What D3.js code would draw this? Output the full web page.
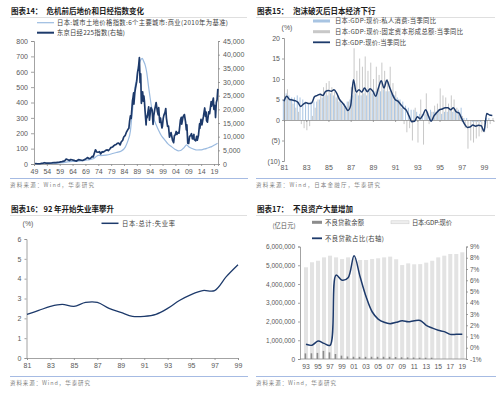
<!DOCTYPE html>
<html>
<head>
<meta charset="utf-8">
<script src="https://cdn.jsdelivr.net/npm/d3@7"></script>
<style>
  body { margin: 0; background: #fff; }
  svg { display: block; }
</style>
</head>
<body>
<svg id="chart" width="500" height="397"></svg>
<script>
const FONT = '"Liberation Sans", "Noto Sans CJK SC", sans-serif';
const CJK = '"Noto Sans CJK SC", sans-serif';
const NAVY = "#1d3a6b";

// ---------- chart 14: land price vs Nikkei ----------
const ticks14 = [1949, 1954, 1959, 1964, 1969, 1974, 1979, 1984, 1989, 1994, 1999, 2004, 2009, 2014, 2019];
const landPrice = [[1955, 3], [1956, 4], [1958, 5], [1960, 8], [1962, 14], [1964, 17], [1966, 18], [1968, 21],
  [1970, 27], [1972, 34], [1973, 46], [1974, 56], [1975, 55], [1977, 58], [1979, 65], [1981, 75], [1983, 85],
  [1984.5, 110], [1985.5, 150], [1986.5, 215], [1987, 300], [1987.5, 380], [1988.3, 503], [1989, 560],
  [1989.6, 633], [1990.3, 670], [1991.1, 687], [1991.6, 670], [1992.3, 640], [1992.8, 600], [1993.5, 510],
  [1994.1, 438], [1995.4, 308], [1996.5, 255], [1997.4, 221], [1998.5, 185], [1999.9, 156], [2001, 132],
  [2002.5, 113], [2003.8, 96], [2005.1, 86], [2006, 88], [2007.1, 102], [2008.4, 124], [2009.3, 110],
  [2010.3, 102], [2011.3, 95], [2012.3, 91], [2013.5, 92], [2014.5, 94], [2015.5, 98], [2016.5, 104],
  [2017.5, 110], [2018.1, 113], [2019, 122], [2020.4, 135]];
const nikkei225 = [[1949.4, 176], [1950.5, 90], [1951.5, 170], [1952.5, 330], [1953.2, 470], [1953.5, 340],
  [1954.8, 330], [1955.9, 425], [1956.9, 550], [1957.5, 480], [1958.9, 670], [1959.9, 870], [1960.9, 1120],
  [1961.5, 1820], [1962.8, 1300], [1963.3, 1630], [1964.9, 1210], [1965.5, 1080], [1966.3, 1580], [1967.9, 1280],
  [1968.9, 1710], [1969.9, 2360], [1970.4, 1930], [1971.0, 2100], [1971.6, 2750], [1972.0, 2600], [1972.9, 5200],
  [1973.4, 4400], [1973.9, 4300], [1974.5, 4500], [1974.9, 3700], [1975.5, 4500], [1975.9, 4360], [1976.5, 4700],
  [1976.9, 4990], [1977.5, 5200], [1977.9, 4860], [1978.5, 5500], [1978.9, 6000], [1979.5, 6200], [1979.9, 6570],
  [1980.5, 7000], [1980.9, 7120], [1981.5, 7600], [1981.9, 7680], [1982.5, 7000], [1982.9, 8020], [1983.5, 8700],
  [1983.9, 9890], [1984.5, 10500], [1984.9, 11540], [1985.5, 12600], [1985.9, 13110], [1986.2, 15800],
  [1986.5, 17600], [1986.8, 16700], [1986.95, 18700], [1987.3, 23200], [1987.5, 24200], [1987.75, 26000],
  [1987.85, 21900], [1988.2, 26000], [1988.5, 27900], [1988.95, 30200], [1989.3, 33700], [1989.6, 35000],
  [1989.99, 38900], [1990.25, 29800], [1990.5, 33000], [1990.75, 22200], [1990.95, 23800], [1991.25, 26400],
  [1991.5, 23000], [1991.75, 24800], [1991.95, 22900], [1992.2, 19300], [1992.6, 14300], [1992.75, 17400],
  [1992.95, 16900], [1993.25, 18600], [1993.6, 20900], [1993.9, 16000], [1994.25, 19100], [1994.5, 20600],
  [1994.95, 19700], [1995.3, 14500], [1995.6, 17800], [1995.95, 19900], [1996.5, 22500], [1996.95, 19400],
  [1997.3, 18000], [1997.5, 20600], [1997.9, 15200], [1998.2, 16800], [1998.75, 13200], [1998.95, 13800],
  [1999.25, 16700], [1999.5, 17800], [1999.95, 18900], [2000.25, 20300], [2000.5, 16800], [2000.95, 13800],
  [2001.3, 13900], [2001.7, 9800], [2001.95, 10500], [2002.3, 11500], [2002.9, 8600], [2003.3, 7800],
  [2003.6, 10300], [2003.95, 10700], [2004.3, 11900], [2004.6, 10800], [2004.95, 11500], [2005.4, 11300],
  [2005.95, 16100], [2006.3, 17100], [2006.45, 14600], [2006.95, 17200], [2007.5, 18100], [2007.95, 15300],
  [2008.25, 12500], [2008.45, 14300], [2008.8, 7600], [2009.15, 7500], [2009.5, 10000], [2009.95, 10500],
  [2010.25, 11100], [2010.6, 9200], [2010.95, 10200], [2011.2, 10800], [2011.25, 9000], [2011.9, 8500],
  [2012.25, 10100], [2012.5, 8700], [2012.95, 10400], [2013.4, 14700], [2013.5, 13000], [2013.95, 16300],
  [2014.3, 14300], [2014.9, 17400], [2015.4, 20500], [2015.7, 17400], [2015.95, 19000], [2016.1, 15900],
  [2016.45, 15300], [2016.95, 19100], [2017.3, 18400], [2017.9, 22800], [2018.1, 21200], [2018.75, 24100],
  [2018.95, 20000], [2019.2, 21500], [2019.45, 20700], [2019.6, 17000], [2019.9, 22500], [2020.2, 23500],
  [2020.5, 27500]];

// ---------- chart 15: quarterly YoY, 1981Q1-1999Q4 ----------
const ticks15 = [1981, 1983, 1985, 1987, 1989, 1991, 1993, 1995, 1997, 1999];
const gdpYoY = [4.6, 5.8, 5.0, 4.9, 4.7, 4.3, 3.3, 3.9, 4.2, 4.0, 4.2, 5.7, 6.0, 6.3, 6.0, 7.0,
  7.2, 7.0, 7.4, 6.5, 5.0, 4.2, 3.3, 2.3, 3.5, 9.8, 6.8, 7.4, 6.8, 7.8, 6.9, 7.6,
  7.0, 5.8, 7.8, 9.6, 7.8, 9.7, 8.0, 6.3, 5.0, 4.6, 3.8, 3.0, 2.4, 1.0, -0.4, -0.3,
  0.8, 0.3, 1.2, 2.5, 1.0, -0.3, 1.0, 1.8, 2.5, 2.7, 3.0, 3.0, 2.5, 3.0, 2.0, 1.7,
  0.3, -1.0, -1.8, -1.7, -1.2, -1.5, -1.3, -1.4, -2.8, 1.6, 1.2, 1.1];
const consYoY = [5.0, 6.5, 6.0, 5.5, 5.5, 6.0, 5.5, 5.0, 4.5, 4.0, 4.5, 4.5, 4.5, 5.0, 5.5, 6.0,
  6.0, 6.5, 6.0, 5.5, 4.5, 4.0, 4.0, 4.5, 5.0, 6.0, 6.5, 6.0, 6.0, 6.5, 6.0, 7.0,
  6.5, 7.0, 7.5, 7.0, 7.5, 7.0, 7.0, 6.5, 6.0, 5.5, 5.0, 4.5, 3.5, 3.0, 2.5, 2.5,
  2.0, 1.5, 1.5, 1.5, 2.0, 2.5, 2.0, 2.0, 2.0, 1.5, 2.0, 2.0, 2.5, 2.0, 2.0, 2.5,
  3.0, 0.5, 0.5, 0.0, -0.5, -0.5, -0.5, -0.5, 0.0, 0.5, 0.5, 0.0];
const gfcfYoY = [6.0, 7.5, 5.0, 4.0, 3.0, 2.0, -1.0, -2.0, -2.5, -1.5, 1.0, 3.0, 5.0, 6.5, 8.0, 9.0,
  9.5, 8.0, 7.0, 6.0, 5.0, 3.5, 3.0, 4.5, 8.0, 17.5, 12.0, 15.0, 13.0, 15.5, 12.0, 14.0,
  10.0, 13.0, 11.0, 14.0, 12.0, 10.0, 13.0, 9.0, 7.0, 5.0, 3.0, -1.0, -3.0, -2.0, -5.0, 3.0,
  -5.5, 5.0, -6.0, 6.5, -1.0, 2.0, 3.5, 4.0, 7.7, 6.0, 5.5, 4.0, 6.0, 5.0, 3.0, 2.0,
  1.0, -2.0, -7.0, -5.0, -5.5, -4.5, -4.0, -3.0, -3.0, -2.0, -1.0, 0.5];

// ---------- chart 16: unemployment ----------
const years16 = d3.range(1981, 2000);
const ticks16 = [1981, 1983, 1985, 1987, 1989, 1991, 1993, 1995, 1997, 1999];
const unemployment = [2.2, 2.4, 2.6, 2.7, 2.6, 2.8, 2.8, 2.5, 2.3, 2.1, 2.1, 2.2, 2.5, 2.9, 3.2, 3.4, 3.4, 4.1, 4.7];

// ---------- chart 17: NPL ----------
const years17 = d3.range(1993, 2020);
const ticks17 = [1993, 1995, 1997, 1999, 2001, 2003, 2005, 2007, 2009, 2011, 2013, 2015, 2017, 2019];
const gdpNominal = [4890000, 5160000, 5240000, 5420000, 5510000, 5420000, 5330000, 5420000, 5370000, 5280000,
  5280000, 5330000, 5370000, 5420000, 5460000, 5320000, 5010000, 5100000, 5050000, 5060000, 5140000, 5240000,
  5420000, 5510000, 5600000, 5600000, 5690000];
const nplAmount = [null, null, null, null, null, 297600, 303700, 325200, 432100, 352900, 265900, 179000,
  133600, 119900, 114300, 115400, 119100, 117000, 118500, 116000, 104700, 90800, 86000, 79000, 70000, 68000, 70000];
const nplRatio = [0.31, 0.22, 0.60, 0.39, 0.22, 6.46, 6.0, 6.22, 8.17, 6.31, 4.53, 3.2, 2.55, 2.26, 2.14, 2.26,
  2.40, 2.31, 2.40, 2.43, 1.99, 1.75, 1.55, 1.43, 1.19, 1.19, 1.2];

const svg = d3.select("#chart");
const yy = d => String(d % 100).padStart(2, "0");

function styleAxis(g, size) {
  g.attr("font-family", FONT).attr("font-size", size || 7);
  g.select(".domain").attr("stroke", "#8c8c8c").attr("stroke-width", 0.8);
  g.selectAll(".tick line").attr("stroke", "#8c8c8c").attr("stroke-width", 0.8);
  g.selectAll(".tick text").attr("fill", "#595959");
}

function header(x, y, num, title, x2, w) {
  svg.append("text").attr("x", x).attr("y", y).attr("font-family", CJK).attr("font-weight", 700)
    .attr("font-size", 7.5).attr("fill", "#1a1a1a").text("图表" + num + "：");
  svg.append("text").attr("x", x2).attr("y", y).attr("font-family", CJK).attr("font-weight", 700)
    .attr("font-size", 7.5).attr("fill", "#1a1a1a").text(title);
  svg.append("line").attr("x1", x - 1).attr("x2", x - 1 + w).attr("y1", y + 4).attr("y2", y + 4)
    .attr("stroke", "#bfbfbf").attr("stroke-width", 0.5);
}

function footer(x, y, w, src, len) {
  svg.append("line").attr("x1", x).attr("x2", x + w).attr("y1", y).attr("y2", y)
    .attr("stroke", "#8faadc").attr("stroke-width", 0.8);
  svg.append("text").attr("x", x).attr("y", y + 8).attr("font-family", CJK).attr("font-size", 5.5)
    .attr("fill", "#7f7f7f").attr("textLength", len).attr("lengthAdjust", "spacing").text(src);
}

function legendText(x, y, t, len) {
  svg.append("text").attr("x", x).attr("y", y).attr("dy", "0.35em").attr("font-family", CJK)
    .attr("font-size", 6.3).attr("fill", "#404040")
    .attr("textLength", len).attr("lengthAdjust", "spacing").text(t);
}

// ================= chart 14 =================
header(11, 13.5, "14", "危机前后地价和日经指数变化", 46.5, 237);
const x14 = d3.scaleLinear().domain([1949, 2020.56]).range([34, 218]);
const yL14 = d3.scaleLinear().domain([0, 800]).range([164, 41]);
const yR14 = d3.scaleLinear().domain([0, 45000]).range([164, 41]);

svg.append("g").attr("transform", "translate(34,0)")
  .call(d3.axisLeft(yL14).tickValues(d3.range(0, 801, 100)).tickSize(3).tickPadding(3)).call(styleAxis);
svg.append("g").attr("transform", "translate(218,0)")
  .call(d3.axisRight(yR14).tickValues(d3.range(0, 45001, 5000)).tickFormat(d3.format(",")).tickSize(2).tickPadding(3))
  .call(styleAxis);
svg.append("g").attr("transform", "translate(0,164)")
  .call(d3.axisBottom(x14).tickValues(ticks14).tickFormat(yy).tickSize(2).tickPadding(3)).call(styleAxis);

svg.append("path").datum(landPrice)
  .attr("fill", "none").attr("stroke", "#9bbbe0").attr("stroke-width", 1.2)
  .attr("d", d3.line().x(d => x14(d[0])).y(d => yL14(d[1])).curve(d3.curveMonotoneX));
svg.append("path").datum(nikkei225)
  .attr("fill", "none").attr("stroke", NAVY).attr("stroke-width", 1.7).attr("stroke-linejoin", "round")
  .attr("d", d3.line().x(d => x14(d[0])).y(d => yR14(d[1])));

svg.append("line").attr("x1", 37).attr("x2", 54).attr("y1", 22.7).attr("y2", 22.7)
  .attr("stroke", "#9bbbe0").attr("stroke-width", 1.2);
legendText(57, 22.7, "日本:城市土地价格指数:6个主要城市:商业(2010年为基准)", 171);
svg.append("line").attr("x1", 37).attr("x2", 54).attr("y1", 32.7).attr("y2", 32.7)
  .attr("stroke", NAVY).attr("stroke-width", 2);
legendText(57, 32.7, "东京日经225指数(右轴)", 68);

footer(10, 178.5, 238, "资料来源：Wind，华泰研究", 84);

// ================= chart 15 =================
header(257, 13.5, "15", "泡沫破灭后日本经济下行", 293, 239);
const x15 = d3.scaleLinear().domain([1981, 1999.85]).range([284, 284 + 18.85 * 11.11]);
const y15 = d3.scaleLinear().domain([-10, 20]).range([161, 38]);
const q15 = gdpYoY.map((v, i) => 1981 + i / 4);

svg.append("g").selectAll("rect.cons").data(consYoY).join("rect")
  .attr("x", (d, i) => x15(q15[i]) - 1.15).attr("width", 1.0)
  .attr("y", d => y15(Math.max(0, d))).attr("height", d => Math.abs(y15(d) - y15(0)))
  .attr("fill", "#a8c4e2");
svg.append("g").selectAll("rect.gfcf").data(gfcfYoY).join("rect")
  .attr("x", (d, i) => x15(q15[i]) + 0.15).attr("width", 1.0)
  .attr("y", d => y15(Math.max(0, d))).attr("height", d => Math.abs(y15(d) - y15(0)))
  .attr("fill", "#c8c8c8");

svg.append("g").attr("transform", "translate(284,0)")
  .call(d3.axisLeft(y15).tickValues([-10, -5, 0, 5, 10, 15, 20]).tickFormat(d => d < 0 ? "(" + (-d) + ")" : d)
    .tickSize(2).tickPadding(2)).call(styleAxis);
svg.append("g").attr("transform", "translate(0," + y15(0) + ")")
  .call(d3.axisBottom(x15).tickValues(ticks15).tickFormat("").tickSize(2)).call(styleAxis);
svg.append("g").attr("transform", "translate(0,161)")
  .call(d3.axisBottom(x15).tickValues(ticks15).tickFormat(yy).tickSize(0).tickPadding(4)).call(styleAxis)
  .call(g => g.select(".domain").remove());

svg.append("path").datum(gdpYoY)
  .attr("fill", "none").attr("stroke", NAVY).attr("stroke-width", 1.5).attr("stroke-linejoin", "round")
  .attr("d", d3.line().x((d, i) => x15(q15[i])).y(d => y15(d)).curve(d3.curveMonotoneX));

svg.append("text").attr("x", 287).attr("y", 27.5).attr("dy", "0.35em").attr("text-anchor", "middle")
  .attr("font-family", FONT).attr("font-size", 7).attr("fill", "#595959").text("(%)");
svg.append("rect").attr("x", 313).attr("y", 19.5).attr("width", 17).attr("height", 3).attr("fill", "#a8c4e2");
legendText(335, 21, "日本:GDP:现价:私人消费:当季同比", 101);
svg.append("rect").attr("x", 313).attr("y", 30.2).attr("width", 17).attr("height", 3).attr("fill", "#c8c8c8");
legendText(335, 31.7, "日本:GDP:现价:固定资本形成总额:当季同比", 128);
svg.append("line").attr("x1", 313).attr("x2", 330).attr("y1", 42.3).attr("y2", 42.3)
  .attr("stroke", NAVY).attr("stroke-width", 1.8);
legendText(335, 42.3, "日本:GDP:现价:当季同比", 71);

footer(256, 178.5, 240, "资料来源：Wind，日本金融厅，华泰研究", 124);

// ================= chart 16 =================
header(11, 211.5, "16", "92 年开始失业率攀升", 43.5, 237);
const x16 = d3.scaleLinear().domain([1981, 1999]).range([27, 238]);
const y16 = d3.scaleLinear().domain([0, 6]).range([358, 239]);

svg.append("g").attr("transform", "translate(26.5,0)")
  .call(d3.axisLeft(y16).ticks(6).tickSize(2).tickPadding(3)).call(styleAxis);
svg.append("g").attr("transform", "translate(0,358)")
  .call(d3.axisBottom(x16).tickValues(ticks16).tickFormat(yy).tickSize(2).tickPadding(3)).call(styleAxis);
svg.append("path").datum(unemployment)
  .attr("fill", "none").attr("stroke", NAVY).attr("stroke-width", 1.3)
  .attr("d", d3.line().x((d, i) => x16(years16[i])).y(d => y16(d)).curve(d3.curveCatmullRom));

svg.append("text").attr("x", 28).attr("y", 223.5).attr("dy", "0.35em").attr("text-anchor", "middle")
  .attr("font-family", FONT).attr("font-size", 7).attr("fill", "#595959").text("(%)");
svg.append("line").attr("x1", 101.5).attr("x2", 118.5).attr("y1", 223.3).attr("y2", 223.3)
  .attr("stroke", NAVY).attr("stroke-width", 1.5);
legendText(122, 223.3, "日本:总计:失业率", 53);

footer(10, 376.5, 238, "资料来源：Wind，华泰研究", 80);

// ================= chart 17 =================
header(257, 211.5, "17", "不良资产大量增加", 293, 239);
const xb = d3.scaleBand().domain(years17).range([303, 465.3]).paddingInner(0.33).paddingOuter(0.165);
const yL17 = d3.scaleLinear().domain([0, 6000000]).range([359, 246.5]);
const yR17 = d3.scaleLinear().domain([-1, 9]).range([359, 246.5]);

svg.append("g").selectAll("rect").data(gdpNominal).join("rect")
  .attr("x", (d, i) => xb(years17[i])).attr("width", xb.bandwidth())
  .attr("y", d => yL17(d)).attr("height", d => yL17(0) - yL17(d))
  .attr("fill", "#e3e3e3");
svg.append("g").selectAll("rect").data(nplAmount).join("rect")
  .filter(d => d !== null)
  .attr("x", (d, i) => xb(years17[i]) + 0.6).attr("width", 1.6)
  .attr("y", d => yL17(d)).attr("height", d => yL17(0) - yL17(d))
  .attr("fill", "#8c8c8c");

svg.append("g").attr("transform", "translate(300,0)")
  .call(d3.axisLeft(yL17).tickValues(d3.range(0, 6000001, 1000000)).tickFormat(d3.format(","))
    .tickSize(2).tickPadding(3)).call(g => styleAxis(g, 6.5));
svg.append("g").attr("transform", "translate(466,0)")
  .call(d3.axisRight(yR17).tickValues(d3.range(-1, 10, 1)).tickFormat(d => d + "%").tickSize(2).tickPadding(2))
  .call(g => styleAxis(g, 6.5));
svg.append("g").attr("transform", "translate(0,359)")
  .call(d3.axisBottom(xb).tickValues(ticks17).tickFormat(yy).tickSize(0).tickPadding(5)).call(g => styleAxis(g, 6.8))
  .call(g => g.select(".domain").attr("d", "M300,0H466"));

svg.append("path").datum(nplRatio)
  .attr("fill", "none").attr("stroke", NAVY).attr("stroke-width", 1.5)
  .attr("d", d3.line().x((d, i) => xb(years17[i]) + xb.bandwidth() / 2).y(d => yR17(d)).curve(d3.curveCatmullRom));

svg.append("text").attr("x", 284).attr("y", 226).attr("dy", "0.35em").attr("text-anchor", "middle")
  .attr("font-family", CJK).attr("font-size", 6.3).attr("fill", "#595959").text("(亿日元)");
svg.append("rect").attr("x", 312).attr("y", 220.8).attr("width", 10).attr("height", 3).attr("fill", "#8c8c8c");
legendText(325, 222.3, "不良贷款余额", 39);
svg.append("rect").attr("x", 391).attr("y", 220.8).attr("width", 18).attr("height", 3)
  .attr("fill", "#eeeeee").attr("stroke", "#cccccc").attr("stroke-width", 0.5);
legendText(412, 222.3, "日本:GDP:现价", 40);
svg.append("line").attr("x1", 312).attr("x2", 322).attr("y1", 238.3).attr("y2", 238.3)
  .attr("stroke", NAVY).attr("stroke-width", 1.8);
legendText(325, 238.3, "不良贷款占比(右轴)", 59);

footer(256, 376.5, 240, "资料来源：Wind，华泰研究", 80);
</script>
</body>
</html>
